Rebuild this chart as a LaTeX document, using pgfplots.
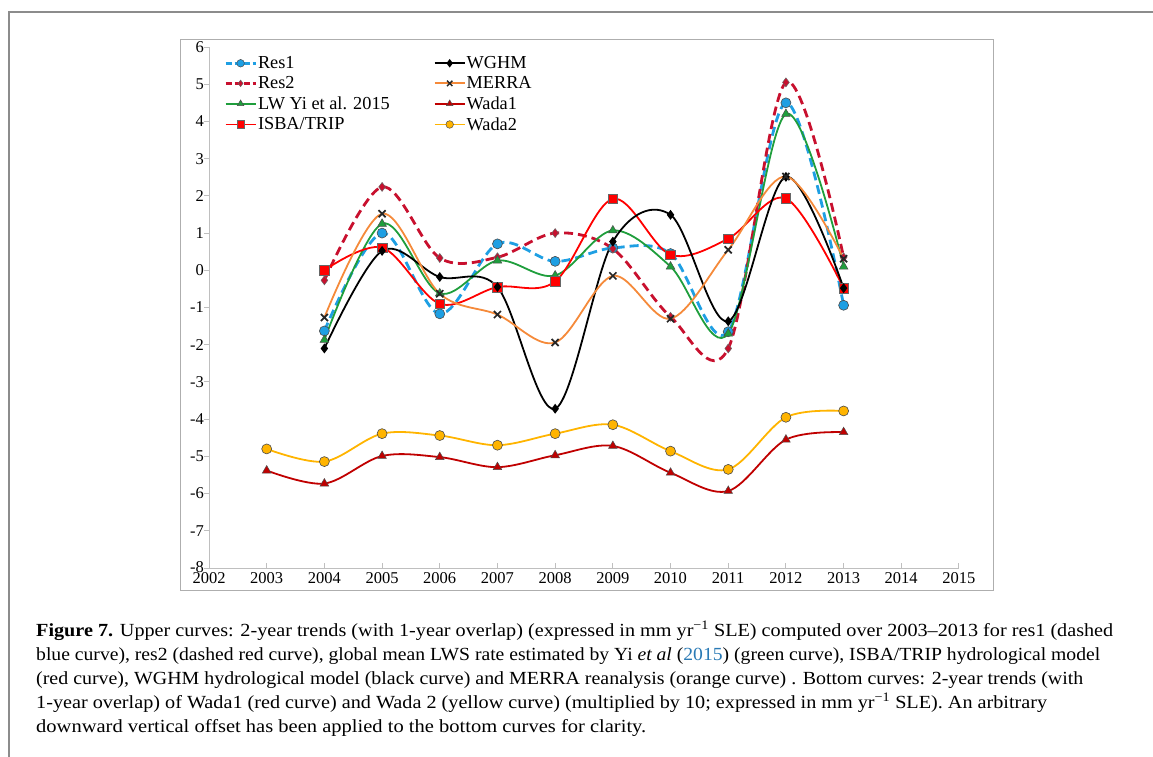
\documentclass[border=0pt]{standalone}
\usepackage{pgfplots}
\pgfplotsset{compat=1.18}
\usepackage{graphicx}
\usepackage{fontspec}
\setmainfont{Liberation Serif}
\definecolor{resone}{HTML}{1E9FE3}
\definecolor{restwo}{HTML}{C8102E}
\definecolor{lwgreen}{HTML}{1F9E3C}
\definecolor{isbared}{HTML}{FF0000}
\definecolor{merra}{HTML}{F58A3A}
\definecolor{wadaone}{HTML}{C00000}
\definecolor{wadatwo}{HTML}{FFB400}
\definecolor{axgray}{HTML}{BFBFBF}
\definecolor{framegray}{HTML}{8C8C8C}
\definecolor{linkblue}{HTML}{2A7AB5}
\begin{document}
\begin{tikzpicture}[x=1pt,y=1pt]
\useasboundingbox (0,0) rectangle (1153,-756);
\draw[framegray, line width=1.3pt] (9,-770) -- (9,-12) -- (1170,-12);
\draw[framegray!70, line width=1pt] (180,-39) rectangle (993,-590);
\begin{axis}[
  at={(209pt,-568pt)}, anchor=south west,
  scale only axis, width=750pt, height=521pt,
  xmin=2002, xmax=2015, ymin=-8, ymax=6,
  axis x line=bottom, axis y line=left,
  axis line style={axgray, line width=0.9pt, -},
  xtick={2002,...,2015}, ytick={-8,...,6},
  xticklabels={2002,2003,2004,2005,2006,2007,2008,2009,2010,2011,2012,2013,2014,2015},
  yticklabels={\raisebox{2pt}{-8},-7,-6,-5,-4,-3,-2,-1,0,1,2,3,4,5,6},
  tick align=inside, major tick length=5pt,
  tick style={axgray, line width=0.9pt},
  ytick style={xshift=-5pt},
  tick label style={font=\fontsize{16.5}{16.5}\selectfont},
  yticklabel style={xshift=-4pt, inner sep=1pt},
  xticklabel style={yshift=-3.5pt, inner sep=1pt},
  legend columns=2,
  legend style={at={(0.016,0.988)}, anchor=north west, draw=none, fill=none,
    font=\fontsize{18.3}{19}\selectfont, row sep=4.5pt,
    nodes={inner sep=1pt},
    /tikz/every even column/.append style={column sep=43pt}},
  legend cell align=left,
  legend image code/.code={\draw[mark repeat=2,mark phase=2] plot coordinates {(0pt,0pt) (15pt,0pt) (30pt,0pt)};},
  every axis plot/.append style={smooth, tension=0.55},
]
% Res1
\addplot[forget plot, resone, dash pattern=on 9pt off 5pt, line width=2.8pt, mark=*, mark size=5pt,
  mark options={solid, fill=resone, draw=black!70, line width=0.6pt}] coordinates {
(2004,-1.63) (2005,1.00) (2006,-1.17) (2007,0.71) (2008,0.24) (2009,0.60) (2010,0.45) (2011,-1.65) (2012,4.50) (2013,-0.94)};
% Res2
\addplot[forget plot, restwo, dash pattern=on 9pt off 5pt, line width=2.8pt, mark=diamond*, mark size=4.5pt,
  mark options={solid, fill=restwo, draw=black!60, line width=0.5pt}] coordinates {
(2004,-0.27) (2005,2.24) (2006,0.33) (2007,0.35) (2008,1.00) (2009,0.58) (2010,-1.25) (2011,-2.10) (2012,5.05) (2013,0.35)};
% LW Yi
\addplot[forget plot, lwgreen, line width=1.8pt, mark=triangle*, mark size=5pt,
  mark options={fill=lwgreen, draw=black!70, line width=0.5pt}] coordinates {
(2004,-1.87) (2005,1.25) (2006,-0.62) (2007,0.26) (2008,-0.14) (2009,1.07) (2010,0.10) (2011,-1.70) (2012,4.20) (2013,0.10)};
% ISBA/TRIP
\addplot[forget plot, isbared, line width=1.8pt, mark=square*, mark size=4.8pt,
  mark options={fill=isbared, draw=black!60, line width=0.5pt}] coordinates {
(2004,0.00) (2005,0.61) (2006,-0.90) (2007,-0.45) (2008,-0.30) (2009,1.92) (2010,0.42) (2011,0.85) (2012,1.93) (2013,-0.48)};
% WGHM
\addplot[forget plot, black, line width=1.8pt, mark=diamond*, mark size=3.5pt,
  mark options={fill=black}] coordinates {
(2004,-2.10) (2005,0.52) (2006,-0.18) (2007,-0.45) (2008,-3.72) (2009,0.77) (2010,1.49) (2011,-1.37) (2012,2.51) (2013,-0.48)};
% MERRA
\addplot[forget plot, merra, line width=1.8pt, mark=x, mark size=5pt,
  mark options={draw=black!85, line width=1.7pt}] coordinates {
(2004,-1.27) (2005,1.52) (2006,-0.63) (2007,-1.19) (2008,-1.94) (2009,-0.15) (2010,-1.30) (2011,0.55) (2012,2.52) (2013,0.31)};
% Wada1
\addplot[forget plot, wadaone, line width=1.8pt, mark=triangle*, mark size=5pt,
  mark options={fill=wadaone, draw=black!70, line width=0.5pt}] coordinates {
(2003,-5.38) (2004,-5.73) (2005,-4.99) (2006,-5.02) (2007,-5.29) (2008,-4.97) (2009,-4.72) (2010,-5.44) (2011,-5.93) (2012,-4.55) (2013,-4.35)};
% Wada2
\addplot[forget plot, wadatwo, line width=1.8pt, mark=*, mark size=5pt,
  mark options={fill=wadatwo, draw=black!70, line width=0.6pt}] coordinates {
(2003,-4.80) (2004,-5.14) (2005,-4.39) (2006,-4.44) (2007,-4.70) (2008,-4.39) (2009,-4.15) (2010,-4.86) (2011,-5.35) (2012,-3.95) (2013,-3.78)};
% legend (row order)
\addlegendimage{resone, dash pattern=on 6pt off 3pt, line width=2.8pt, mark=*, mark size=3.8pt, mark options={solid, fill=resone, draw=black!70, line width=0.5pt}}
\addlegendentry{Res1}
\addlegendimage{black, line width=1.8pt, mark=diamond*, mark size=2.8pt, mark options={fill=black}}
\addlegendentry{WGHM}
\addlegendimage{restwo, dash pattern=on 6pt off 3pt, line width=2.8pt, mark=diamond*, mark size=3.3pt, mark options={solid, fill=restwo, draw=black!60, line width=0.5pt}}
\addlegendentry{Res2}
\addlegendimage{merra, line width=1.8pt, mark=x, mark size=3.8pt, mark options={draw=black!85, line width=1.4pt}}
\addlegendentry{MERRA}
\addlegendimage{lwgreen, line width=1.8pt, mark=triangle*, mark size=3.8pt, mark options={fill=lwgreen, draw=black!70, line width=0.5pt}}
\addlegendentry{LW Yi et al. 2015}
\addlegendimage{wadaone, line width=1.8pt, mark=triangle*, mark size=3.8pt, mark options={fill=wadaone, draw=black!70, line width=0.5pt}}
\addlegendentry{Wada1}
\addlegendimage{isbared, line width=1.8pt, mark=square*, mark size=3.8pt, mark options={fill=isbared, draw=black!60, line width=0.5pt}}
\addlegendentry{ISBA/TRIP}
\addlegendimage{wadatwo, line width=1.8pt, mark=*, mark size=3.8pt, mark options={fill=wadatwo, draw=black!70, line width=0.5pt}}
\addlegendentry{Wada2}
\end{axis}
% caption
\begin{scope}[every node/.style={anchor=base west, inner sep=0pt, font=\fontsize{18.5}{18.5}\selectfont}]
\node at (36,-636) {\resizebox{1077pt}{\height}{\textbf{Figure 7.} Upper curves: 2-year trends (with 1-year overlap) (expressed in mm yr\textsuperscript{−1} SLE) computed over 2003–2013 for res1 (dashed}};
\node at (36,-660) {\resizebox{1064pt}{\height}{blue curve), res2 (dashed red curve), global mean LWS rate estimated by Yi \textit{et al} (\textcolor{linkblue}{2015}) (green curve), ISBA/TRIP hydrological model}};
\node at (36,-684) {\resizebox{1047pt}{\height}{(red curve), WGHM hydrological model (black curve) and MERRA reanalysis (orange curve) . Bottom curves: 2-year trends (with}};
\node at (36,-708) {\resizebox{1011pt}{\height}{1-year overlap) of Wada1 (red curve) and Wada 2 (yellow curve) (multiplied by 10; expressed in mm yr\textsuperscript{−1} SLE). An arbitrary}};
\node at (36,-732) {\resizebox{610pt}{\height}{downward vertical offset has been applied to the bottom curves for clarity.}};
\end{scope}
\end{tikzpicture}
\end{document}
